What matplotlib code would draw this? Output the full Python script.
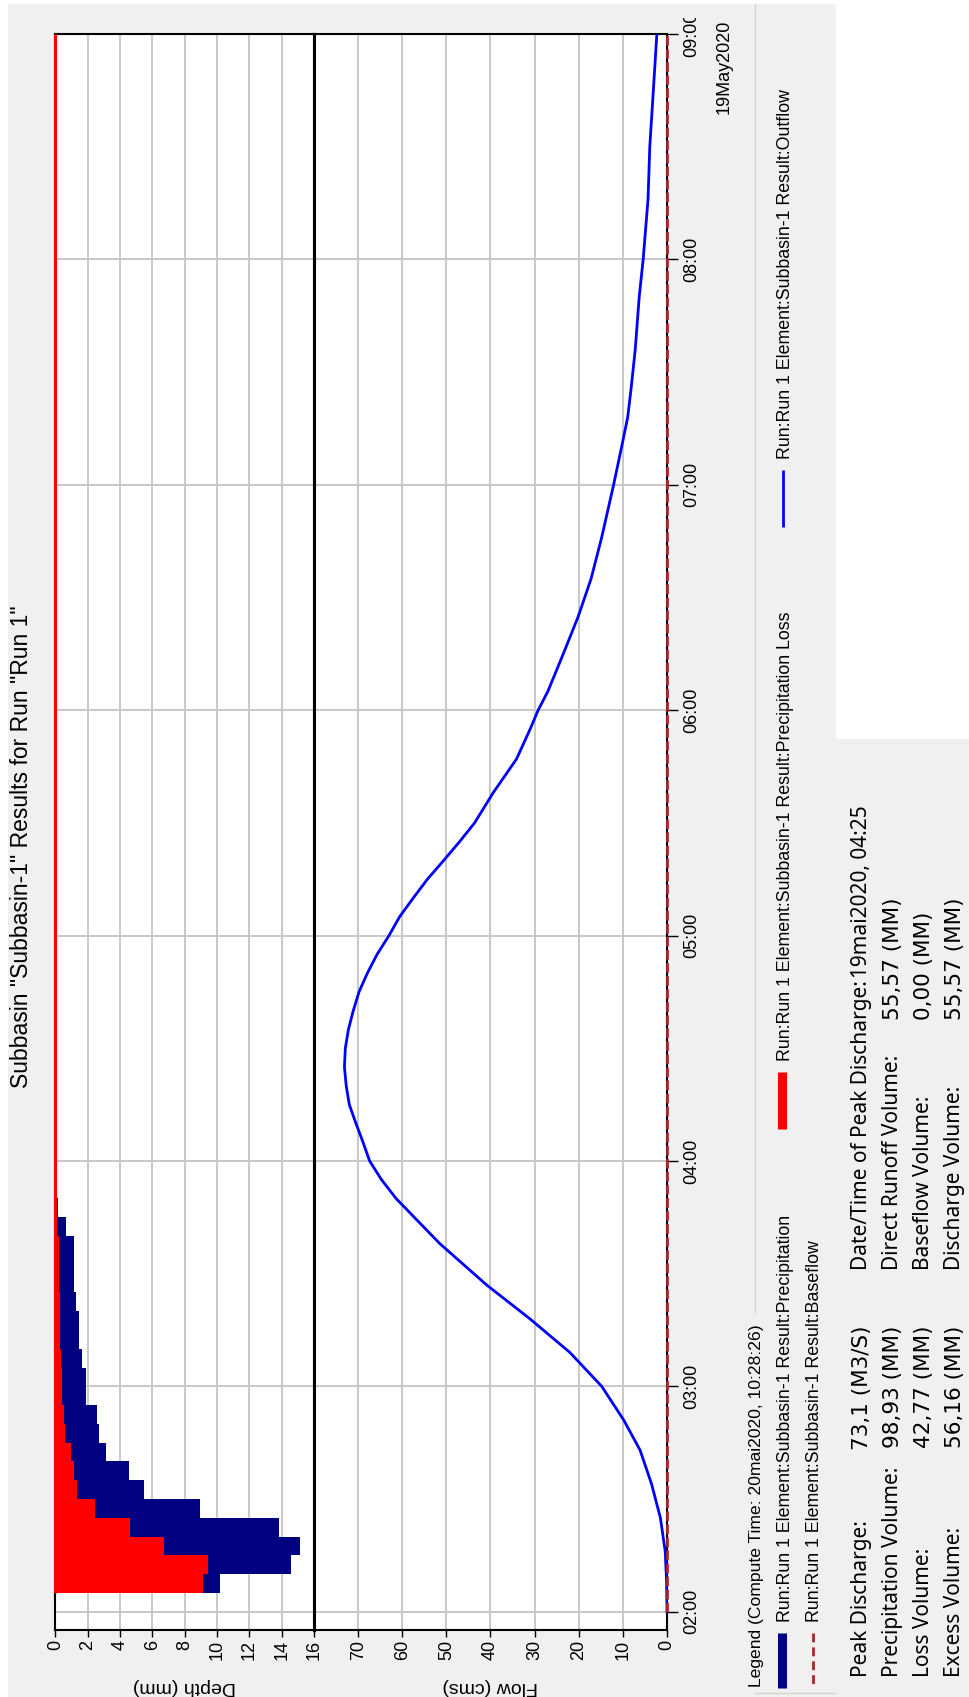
import matplotlib
matplotlib.use("Agg")
import matplotlib.pyplot as plt
from matplotlib.lines import Line2D
from matplotlib.patches import Rectangle
from matplotlib.transforms import Bbox

# ---------------- data ----------------
title = 'Subbasin "Subbasin-1" Results for Run "Run 1"'
legend_title = "Legend (Compute Time: 20mai2020, 10:28:26)"
legend_labels = [
    "Run:Run 1 Element:Subbasin-1 Result:Precipitation",
    "Run:Run 1 Element:Subbasin-1 Result:Baseflow",
    "Run:Run 1 Element:Subbasin-1 Result:Precipitation Loss",
    "Run:Run 1 Element:Subbasin-1 Result:Outflow",
]

precip_start = "02:05"
precip_step_min = 5
precip_mm = [10.2, 14.55, 15.13, 13.86, 8.94, 5.48, 4.55, 3.10, 2.68, 2.54,
             1.90, 1.90, 1.66, 1.45, 1.45, 1.28, 1.14, 1.14, 1.14, 0.62, 0.14]
loss_mm = [9.14, 9.41, 6.72, 4.59, 2.43, 1.30, 1.13, 0.97, 0.61, 0.51,
           0.40, 0.40, 0.35, 0.30, 0.30, 0.25, 0.20, 0.20, 0.20, 0.12, 0.05]
loss_zero_time = ["02:05", "09:00"]
loss_zero_mm = [0.0, 0.0]

flow_time = ["02:00", "02:08", "02:16", "02:25", "02:34", "02:43", "02:51", "03:00",
             "03:09", "03:18", "03:27", "03:38", "03:50", "03:55", "04:00", "04:05",
             "04:10", "04:15", "04:20", "04:25", "04:30", "04:35", "04:40", "04:45",
             "04:50", "04:55", "05:00", "05:05", "05:10", "05:15", "05:20", "05:25",
             "05:30", "05:38", "05:47", "05:55", "06:00", "06:05", "06:15", "06:25",
             "06:35", "06:46", "07:00", "07:10", "07:18", "07:26", "07:36", "07:50",
             "08:00", "08:16", "08:30", "08:43", "09:00"]
flow_cms = [0.0, 0.1, 0.4, 1.5, 3.5, 6.1, 9.8, 14.8,
            22.0, 31.1, 40.9, 51.5, 61.4, 64.7, 67.4, 68.9,
            70.5, 72.0, 72.7, 73.1, 72.9, 72.2, 71.1, 69.8,
            67.9, 65.7, 63.0, 60.6, 57.5, 54.3, 50.6, 47.0,
            43.6, 39.4, 34.1, 31.0, 29.2, 27.0, 23.5, 20.1,
            17.2, 14.8, 12.1, 10.3, 8.9, 8.1, 7.2, 6.3,
            5.4, 4.3, 3.9, 3.2, 2.3]
baseflow_time = ["02:00", "09:00"]
baseflow_cms = [0.0, 0.0]

time_ticks = ["02:00", "03:00", "04:00", "05:00", "06:00", "07:00", "08:00", "09:00"]
end_date = "19May2020"
depth_ticks = [0, 2, 4, 6, 8, 10, 12, 14, 16]
flow_ticks = [0, 10, 20, 30, 40, 50, 60, 70]

stats_col1_labels = ["Peak Discharge:", "Precipitation Volume:", "Loss Volume:", "Excess Volume:"]
stats_col1_values = ["73,1 (M3/S)", "98,93 (MM)", "42,77 (MM)", "56,16 (MM)"]
stats_col2_labels = ["Date/Time of Peak Discharge:", "Direct Runoff Volume:",
                     "Baseflow Volume:", "Discharge Volume:"]
stats_col2_values = ["19mai2020, 04:25", "55,57 (MM)", "0,00 (MM)", "55,57 (MM)"]


def hrs(s):
    h, m = s.split(":")
    return int(h) + int(m) / 60.0


# ---------------- layout ----------------
W, H, DPI = 970, 1697, 100
plt.rcParams["font.family"] = ["Liberation Sans", "DejaVu Sans"]


def fx(x):
    return x / W


def fy(y):
    return 1 - y / H


fig = plt.figure(figsize=(W / DPI, H / DPI), dpi=DPI, facecolor="white")
GRAY = "#f0f0f0"
fig.patches.append(Rectangle((fx(8), 0), fx(836) - fx(8), fy(4), transform=fig.transFigure,
                             facecolor=GRAY, edgecolor="none", zorder=-10))
fig.patches.append(Rectangle((fx(836), 0), 1 - fx(836), fy(739), transform=fig.transFigure,
                             facecolor=GRAY, edgecolor="none", zorder=-10))

top_px, bot_px = 34, 1630
px_per_h = (1611.7 - top_px) / 7.0
tmin = 2 - (bot_px - 1611.7) / px_per_h
tmax = hrs("09:00")

ax1 = fig.add_axes([fx(55.5), fy(bot_px), (314 - 55.5) / W, (bot_px - top_px) / H])
ax2 = fig.add_axes([fx(314), fy(bot_px), (667 - 314) / W, (bot_px - top_px) / H])

GRID = "#c8c8c8"
tick_hours = [hrs(t) for t in time_ticks]

# depth panel
step_h = precip_step_min / 60.0
starts = [hrs(precip_start) + i * step_h for i in range(len(precip_mm))]
ax1.barh(starts, precip_mm, height=step_h, align="edge", color="#000080", linewidth=0, zorder=2)
ax1.barh(starts, loss_mm, height=step_h, align="edge", color="#ff0000", linewidth=0, zorder=2.2)
ax1.plot(loss_zero_mm, [hrs(t) for t in loss_zero_time], color="#ff0000", lw=2.2,
         zorder=3, clip_on=False, solid_capstyle="butt")
ax1.set_xlim(0, 16)
ax1.set_ylim(tmin, tmax)
ax1.set_xticks(depth_ticks)
ax1.set_xticklabels([str(v) for v in depth_ticks])
ax1.set_yticks(tick_hours)
ax1.grid(True, color=GRID, lw=1.4)
ax1.set_axisbelow(True)
ax1.tick_params(axis="y", left=False, labelleft=False, right=False, labelright=False)
ax1.tick_params(axis="x", direction="out", length=5, width=1, labelrotation=90,
                labelsize=13, pad=2)
for side, lw in (("left", 1.5), ("top", 1.5), ("bottom", 1.5), ("right", 2.2)):
    ax1.spines[side].set_linewidth(lw)
    ax1.spines[side].set_color("black")
ax1.set_xlabel("Depth (mm)", rotation=180, fontsize=14, va="center", ha="center")
ax1.xaxis.set_label_coords(0.5, -(1686 - bot_px) / (bot_px - top_px))

# flow panel
ax2.plot(flow_cms, [hrs(t) for t in flow_time], color="#0000ff", lw=2.0, zorder=3,
         solid_joinstyle="round")
ax2.plot(baseflow_cms, [hrs(t) for t in baseflow_time], color="#a52a2a", lw=2.0,
         ls=(0, (3.5, 1.2)), zorder=4, clip_on=False)
ax2.set_xlim(80, 0)
ax2.set_ylim(tmin, tmax)
ax2.set_xticks(flow_ticks)
ax2.set_xticklabels([str(v) for v in flow_ticks])
ax2.yaxis.tick_right()
ax2.set_yticks(tick_hours)
ax2.set_yticklabels(time_ticks[:-1] + [""])
ax2.grid(True, color=GRID, lw=1.4)
ax2.set_axisbelow(True)
ax2.tick_params(axis="x", direction="out", length=5, width=1, labelrotation=90,
                labelsize=13, pad=2)
ax2.tick_params(axis="y", direction="out", length=8, width=1, labelrotation=90,
                labelsize=13, pad=3.5, left=False)
for lab in ax2.get_yticklabels():
    lab.set_va("center")
for side, lw in (("left", 2.2), ("top", 1.5), ("bottom", 1.5), ("right", 1.5)):
    ax2.spines[side].set_linewidth(lw)
    ax2.spines[side].set_color("black")
ax2.set_xlabel("Flow (cms)", rotation=180, fontsize=14, va="center", ha="center")
ax2.xaxis.set_label_coords(0.5, -(1686 - bot_px) / (bot_px - top_px))

# last (clipped) time label and the date
t9 = fig.text(fx(683), fy(top_px + 0.5), time_ticks[-1], rotation=90, ha="left", va="center",
              fontsize=13)
t9.set_clip_box(Bbox.from_extents(0, 0, W, H - 18))
t9.set_clip_on(True)
fig.text(fx(724), fy(20), end_date, rotation=90, ha="center", va="top", fontsize=13)

# title
fig.text(fx(22), fy(847), title, rotation=90, ha="center", va="center", fontsize=16.5)

# legend group box
LGRAY = "#d4d4d4"
fig.add_artist(Line2D([fx(755), fx(755)], [fy(4), fy(1313)], transform=fig.transFigure,
                      color=LGRAY, lw=1))
fig.add_artist(Line2D([fx(755), fx(835)], [fy(1693), fy(1693)], transform=fig.transFigure,
                      color=LGRAY, lw=1))
fig.text(fx(757), fy(1687), legend_title, rotation=90, ha="center", va="bottom", fontsize=12.6)

# legend entries
fig.add_artist(Line2D([fx(782), fx(782)], [fy(1633), fy(1688)], transform=fig.transFigure,
                      color="#000080", lw=6.5, solid_capstyle="butt"))
fig.text(fx(786), fy(1622), legend_labels[0], rotation=90, ha="center", va="bottom", fontsize=12.8)
fig.add_artist(Line2D([fx(813), fx(813)], [fy(1633), fy(1688)], transform=fig.transFigure,
                      color="#a52a2a", lw=2.0, ls=(0, (3.2, 1.8))))
fig.text(fx(815), fy(1622), legend_labels[1], rotation=90, ha="center", va="bottom", fontsize=12.8)
fig.add_artist(Line2D([fx(782), fx(782)], [fy(1072), fy(1129)], transform=fig.transFigure,
                      color="#ff0000", lw=6.5, solid_capstyle="butt"))
fig.text(fx(786), fy(1061), legend_labels[2], rotation=90, ha="center", va="bottom", fontsize=12.8)
fig.add_artist(Line2D([fx(783), fx(783)], [fy(470), fy(527)], transform=fig.transFigure,
                      color="#0000ff", lw=2.0, solid_capstyle="butt"))
fig.text(fx(786), fy(459), legend_labels[3], rotation=90, ha="center", va="bottom", fontsize=12.8)

# statistics
SFONT = ["Noto Sans", "DejaVu Sans"]
VFONT = ["DejaVu Sans"]
rows_x = [862, 893, 924, 955]
for i, xr in enumerate(rows_x):
    fig.text(fx(xr), fy(1677), stats_col1_labels[i], rotation=90, ha="center", va="bottom",
             fontsize=15, family=SFONT)
    fig.text(fx(xr), fy(1326), stats_col1_values[i], rotation=90, ha="center", va="top",
             fontsize=15.5, family=VFONT)
    fig.text(fx(xr), fy(1270), stats_col2_labels[i], rotation=90, ha="center", va="bottom",
             fontsize=15, family=SFONT)
    if i == 0:
        fig.text(fx(xr), fy(805), stats_col2_values[i], rotation=90, ha="center", va="top",
                 fontsize=15, family=SFONT)
    else:
        fig.text(fx(xr), fy(1020), stats_col2_values[i], rotation=90, ha="center", va="bottom",
                 fontsize=15.5, family=VFONT)

fig.savefig("out.png", dpi=DPI, facecolor=fig.get_facecolor())
